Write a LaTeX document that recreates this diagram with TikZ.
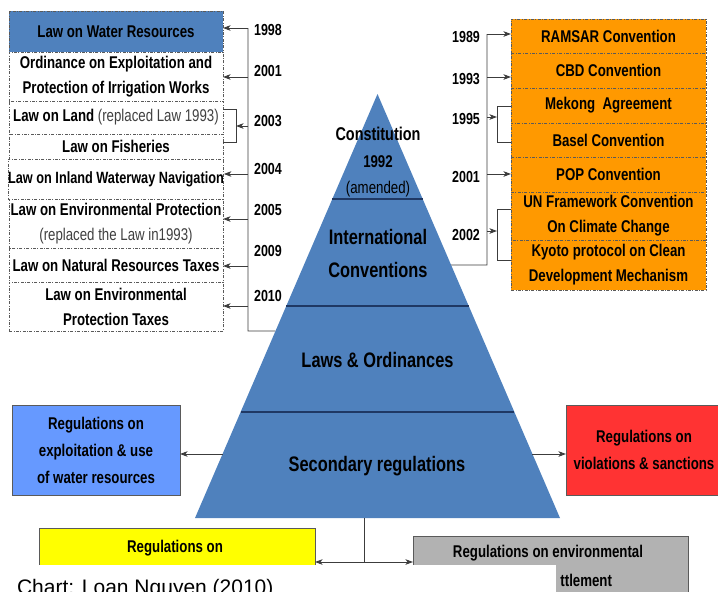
\documentclass[tikz,border=0pt]{standalone}
\usepackage{fontspec}
\setmainfont{Liberation Sans}
\newfontfamily\nar{Liberation Sans}[FakeStretch=0.78]
\usetikzlibrary{arrows.meta,calc}

\definecolor{pyrblue}{RGB}{79,129,189}
\definecolor{lightblue}{RGB}{102,153,255}
\definecolor{orng}{RGB}{255,153,0}
\definecolor{redbox}{RGB}{255,51,51}
\definecolor{ylw}{RGB}{255,255,0}
\definecolor{grybox}{RGB}{178,178,178}
\definecolor{tierline}{RGB}{31,56,100}
\definecolor{wire}{RGB}{60,60,60}
\definecolor{paren}{RGB}{64,64,64}
\definecolor{boxedge}{RGB}{90,90,90}

\tikzset{
  every node/.style={inner sep=0pt, outer sep=0pt},
  txt/.style={font={\nar\bfseries\fontsize{17}{25}\selectfont}, align=center},
  bigtxt/.style={font={\nar\bfseries\fontsize{21}{33}\selectfont}, align=center},
  year/.style={font={\nar\bfseries\fontsize{16}{16}\selectfont}},
  dashdot/.style={dash pattern=on 3pt off 1.5pt on 0.8pt off 1.5pt},
  lawbox/.style={draw=boxedge, line width=0.8pt, dashdot, fill=white,
    minimum width=214pt, txt},
  convbox/.style={draw=boxedge, line width=0.8pt, dashdot, fill=orng,
    minimum width=195pt, txt},
  regbox/.style={draw=boxedge, line width=0.9pt, txt},
  conn/.style={draw=wire, line width=0.9pt},
  tip/.tip={Stealth[length=7.5pt,width=5.5pt,inset=2pt]},
  arr/.style={conn, -tip},
  tierrule/.style={draw=tierline, line width=1.5pt},
}

\begin{document}
\begin{tikzpicture}[x=1pt,y=-1pt]
\useasboundingbox (0,0) rectangle (718,592);
\clip (0,0) rectangle (718,592);

% ---------- pyramid geometry ----------
\coordinate (apex) at (377.5,94);
\coordinate (bl) at (195,518);
\coordinate (br) at (560,518);

% ---------- national legislation (left column) ----------
\node[lawbox, minimum height=41pt, fill=pyrblue] (law1) at (116,31.5) {Law on Water Resources};
\node[lawbox, minimum height=49pt] (law2) at (116,76.5) {Ordinance on Exploitation and\\Protection of Irrigation Works};
\node[lawbox, minimum height=33pt] (law3) at (116,117.5) {Law on Land {\mdseries\color{paren}(replaced Law 1993)}};
\node[lawbox, minimum height=25pt] (law4) at (116,146.5) {Law on Fisheries};
\node[lawbox, minimum height=40pt, font={\nar\bfseries\fontsize{16.3}{25}\selectfont}] (law5) at (116,179) {Law on Inland Waterway Navigation};
\node[lawbox, minimum height=49pt] (law6) at (116,223.5) {Law on Environmental Protection\\{\mdseries\color{paren}(replaced the Law in1993)}};
\node[lawbox, minimum height=34pt] (law7) at (116,265) {Law on Natural Resources Taxes};
\node[lawbox, minimum height=49pt] (law8) at (116,306.5) {Law on Environmental\\Protection Taxes};

% left timeline
\coordinate (t1998) at (248,28);
\coordinate (t2001) at (248,77);
\coordinate (t2003) at (248,126);
\coordinate (t2004) at (248,174);
\coordinate (t2005) at (248,219);
\coordinate (t2009) at (248,266);
\coordinate (t2010) at (248,306);
\coordinate (lspine) at (248,331);
\coordinate (ledge) at ($(apex)!{(331-94)/424}!(bl)$);
\coordinate (lbr-t) at (236,109);
\coordinate (lbr-b) at (236,142);

\draw[conn] (t1998) -- (lspine) -- (ledge);
\draw[arr] (t1998) -- (t1998 -| law1.east);
\draw[arr] (t2001) -- (t2001 -| law2.east);
\draw[conn] (lbr-t -| law3.east) -- (lbr-t) -- (lbr-b) -- (lbr-b -| law4.east);
\draw[arr] (t2003) -- (t2003 -| lbr-t);
\draw[arr] (t2004) -- (t2004 -| law5.east);
\draw[arr] (t2005) -- (t2005 -| law6.east);
\draw[arr] (t2009) -- (t2009 -| law7.east);
\draw[arr] (t2010) -- (t2010 -| law8.east);

\node[year] (y1998) at (268,30) {1998};
\node[year] (y2001) at (268,71) {2001};
\node[year] (y2003) at (268,121) {2003};
\node[year] (y2004) at (268,169) {2004};
\node[year] (y2005) at (268,210) {2005};
\node[year] (y2009) at (268,251) {2009};
\node[year] (y2010) at (268,296) {2010};

% ---------- international conventions (right column) ----------
\node[convbox, minimum height=34pt] (ramsar) at (608.5,36) {RAMSAR Convention};
\node[convbox, minimum height=35pt] (cbd) at (608.5,70.5) {CBD Convention};
\node[convbox, minimum height=35pt] (mekong) at (608.5,105.5) {Mekong\ \ Agreement};
\node[convbox, minimum height=34pt] (basel) at (608.5,140) {Basel Convention};
\node[convbox, minimum height=35pt] (pop) at (608.5,174.5) {POP Convention};
\node[convbox, minimum height=48pt] (unfccc) at (608.5,216) {UN Framework Convention\\On Climate Change};
\node[convbox, minimum height=50pt] (kyoto) at (608.5,265) {Kyoto protocol on Clean\\Development Mechanism};

% right timeline
\coordinate (r1989) at (487,34);
\coordinate (r1993) at (487,77);
\coordinate (r1995) at (487,117);
\coordinate (r2001) at (487,174);
\coordinate (r2002) at (487,231);
\coordinate (rspine) at (487,265);
\coordinate (redge) at ($(apex)!{(265-94)/424}!(br)$);
\coordinate (rbr1-t) at (497,106);
\coordinate (rbr1-b) at (497,142);
\coordinate (rbr2-t) at (497,209);
\coordinate (rbr2-b) at (497,260);

\draw[conn] (r1989) -- (rspine) -- (redge);
\draw[arr] (r1989) -- (r1989 -| ramsar.west);
\draw[arr] (r1993) -- (r1993 -| cbd.west);
\draw[conn] (rbr1-t -| mekong.west) -- (rbr1-t) -- (rbr1-b) -- (rbr1-b -| basel.west);
\draw[arr] (r1995) -- (r1995 -| rbr1-t);
\draw[arr] (r2001) -- (r2001 -| pop.west);
\draw[conn] (rbr2-t -| unfccc.west) -- (rbr2-t) -- (rbr2-b) -- (rbr2-b -| kyoto.west);
\draw[arr] (r2002) -- (r2002 -| rbr2-t);

\node[year] (y1989) at (466,37) {1989};
\node[year] (y1993) at (466,79) {1993};
\node[year] (y1995) at (466,119) {1995};
\node[year] (y2001r) at (466,177) {2001};
\node[year] (y2002) at (466,235) {2002};

% ---------- pyramid ----------
\fill[pyrblue] (bl) -- (apex) -- (br) -- cycle;
\draw[tierrule] ($(apex)!{(199-94)/424}!(bl)$) -- ($(apex)!{(199-94)/424}!(br)$);
\draw[tierrule] ($(apex)!{(306-94)/424}!(bl)$) -- ($(apex)!{(306-94)/424}!(br)$);
\draw[tierrule] ($(apex)!{(412-94)/424}!(bl)$) -- ($(apex)!{(412-94)/424}!(br)$);

\node[font={\nar\bfseries\fontsize{18.5}{18.5}\selectfont}] (constit) at (378,134) {Constitution};
\node[font={\nar\bfseries\fontsize{17}{17}\selectfont}] (c1992) at (378,162) {1992};
\node[font={\nar\fontsize{17}{17}\selectfont}] (amended) at (378,189) {(amended)};
\node[bigtxt] (intl) at (378,253.5) {International\\Conventions};
\node[bigtxt] (laws) at (377.5,360) {Laws \& Ordinances};
\node[bigtxt] (secondary) at (377,466) {Secondary regulations};

% ---------- secondary regulation boxes ----------
\node[regbox, fill=lightblue, minimum width=168pt, minimum height=90pt] (regw) at (96,450)
  {Regulations on\\[2pt]exploitation \& use\\[2pt]of water resources};
\node[regbox, fill=redbox, minimum width=156pt, minimum height=90pt] (regv) at (644,450)
  {Regulations on\\[2pt]violations \& sanctions};

\coordinate (pl) at ($(apex)!{(454-94)/424}!(bl)$);
\coordinate (pr) at ($(apex)!{(454-94)/424}!(br)$);
\draw[arr] (pl) -- (regw.east |- pl);
\draw[arr] (pr) -- (regv.west |- pr);

\node[regbox, fill=ylw, minimum width=276pt, minimum height=80pt] (regy) at (177,568) {};
\node[txt] (regyt) at (175,548) {Regulations on};
\node[regbox, fill=grybox, minimum width=275pt, minimum height=80pt] (rege) at (550.5,576) {};
\node[txt] (reget1) at (548,553) {Regulations on environmental};
\node[txt, anchor=east] (reget2) at (612,580) {ttlement};

\coordinate (bmid) at (364,518);
\coordinate (bjoin) at (364,562);
\draw[conn] (bmid) -- (bjoin);
\draw[conn, tip-tip] (regy.east |- bjoin) -- (rege.west |- bjoin);

% ---------- source line ----------
\fill[white] (0,565) rectangle (556,600);
\node[anchor=base west, font={\fontsize{21}{21}\selectfont}] (credit) at (17,594) {Chart: Loan Nguyen (2010)};
\end{tikzpicture}
\end{document}
